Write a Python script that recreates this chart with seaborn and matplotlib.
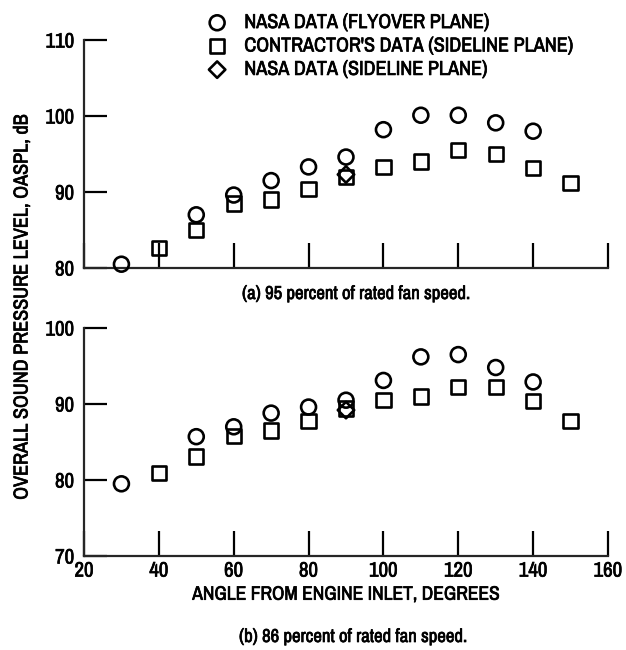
import matplotlib
matplotlib.use("Agg")
import matplotlib.pyplot as plt
from matplotlib import font_manager
import matplotlib.patheffects as pe
import seaborn as sns
import numpy as np
import pandas as pd

# ---------------- data ----------------
angles_flyover = [30, 50, 60, 70, 80, 90, 100, 110, 120, 130, 140]
angles_contractor = [40, 50, 60, 70, 80, 90, 100, 110, 120, 130, 140, 150]
angles_sideline = [90]

# (a) 95 percent of rated fan speed
a_flyover = [80.5, 87.0, 89.6, 91.5, 93.3, 94.6, 98.2, 100.1, 100.1, 99.1, 98.0]
a_contractor = [82.6, 85.0, 88.5, 89.0, 90.4, 92.0, 93.3, 94.0, 95.5, 95.0, 93.2, 91.2]
a_sideline = [92.3]

# (b) 86 percent of rated fan speed
b_flyover = [79.5, 85.7, 87.0, 88.8, 89.6, 90.5, 93.1, 96.2, 96.5, 94.8, 92.9]
b_contractor = [80.9, 83.1, 85.8, 86.5, 87.8, 89.4, 90.5, 91.0, 92.2, 92.2, 90.4, 87.8]
b_sideline = [89.2]

series_labels = ["NASA DATA (FLYOVER PLANE)",
                 "CONTRACTOR'S DATA (SIDELINE PLANE)",
                 "NASA DATA (SIDELINE PLANE)"]
x_ticks = [20, 40, 60, 80, 100, 120, 140, 160]
a_yticks = [80, 90, 100, 110]
b_yticks = [70, 80, 90, 100]
captions = ["(a) 95 percent of rated fan speed.", "(b) 86 percent of rated fan speed."]
x_label = "ANGLE FROM ENGINE INLET, DEGREES"
y_label = "OVERALL SOUND PRESSURE LEVEL, OASPL, dB"

# ---------------- style ----------------
sns.set_theme(style="ticks")

# pick a condensed face if one is installed
names = sorted({f.name for f in font_manager.fontManager.ttflist})
narrow = [n for n in names if "Narrow" in n or "Condensed" in n]
family = [narrow[0]] if narrow else []
family += ["DejaVu Sans"]
stretch = "normal" if narrow else "condensed"
plt.rcParams["font.family"] = family
plt.rcParams["font.stretch"] = stretch
plt.rcParams["text.color"] = "black"
plt.rcParams["axes.labelcolor"] = "black"
plt.rcParams["axes.linewidth"] = 1.6

HEAVY = [pe.withStroke(linewidth=0.5, foreground="black")]

fig = plt.figure(figsize=(6.26, 6.5), dpi=100)
W, H = 626, 650
def box(x0, y0, x1, y1):
    return [x0 / W, 1 - y1 / H, (x1 - x0) / W, (y1 - y0) / H]

ax_a = fig.add_axes(box(84, 40, 608, 268))
ax_b = fig.add_axes(box(84, 328, 608, 556))

markers = ["o", "s", "D"]
sizes = [115, 105, 70]
FS_TICK = 15
FS_LEG = 14.5
FS_LAB = 14.5

def draw(ax, ys, yticks):
    xs = [angles_flyover, angles_contractor, angles_sideline]
    for x, y, m, s, lab in zip(xs, ys, markers, sizes, series_labels):
        sns.scatterplot(x=x, y=y, marker=m, s=s, facecolors="none",
                        edgecolor="black", linewidth=1.9, ax=ax,
                        label=lab, legend=False, zorder=3, clip_on=False)
    ax.set_xlim(20, 160)
    ax.set_ylim(yticks[0], yticks[-1])
    ax.set_xticks(x_ticks)
    ax.set_yticks(yticks)
    sns.despine(ax=ax)
    ax.tick_params(axis="y", direction="in", length=16.5, width=1.6,
                   labelsize=FS_TICK, pad=7, colors="black")
    ax.tick_params(axis="x", direction="in", length=18, width=1.6,
                   labelsize=FS_TICK, pad=4, colors="black")
    for t in ax.get_xticklabels() + ax.get_yticklabels():
        t.set_path_effects(HEAVY)
    ax.set_xlabel("")
    ax.set_ylabel("")
    if ax.get_legend():
        ax.get_legend().remove()

draw(ax_a, [a_flyover, a_contractor, a_sideline], a_yticks)
draw(ax_b, [b_flyover, b_contractor, b_sideline], b_yticks)
ax_a.tick_params(axis="x", labelbottom=False)

ax_b.set_xlabel(x_label, fontsize=14, labelpad=3, path_effects=HEAVY)

fig.text(356 / W, 1 - 294 / H, captions[0], ha="center", va="center",
         fontsize=13.5, path_effects=HEAVY)
fig.text(353 / W, 1 - 637 / H, captions[1], ha="center", va="center",
         fontsize=13.5, path_effects=HEAVY)
fig.text(22 / W, 1 - 307 / H, y_label, rotation=90, ha="center",
         va="center", fontsize=FS_LAB, path_effects=HEAVY)

handles, labels = ax_a.get_legend_handles_labels()
leg = fig.legend(handles, labels, loc="upper left",
                 bbox_to_anchor=(197 / W, 1 - 5 / H), frameon=False,
                 prop={"size": FS_LEG}, labelspacing=0.22,
                 handletextpad=0.75, borderaxespad=0, handlelength=1.2)
for t in leg.get_texts():
    t.set_path_effects(HEAVY)

fig.savefig("out.png", dpi=100)
